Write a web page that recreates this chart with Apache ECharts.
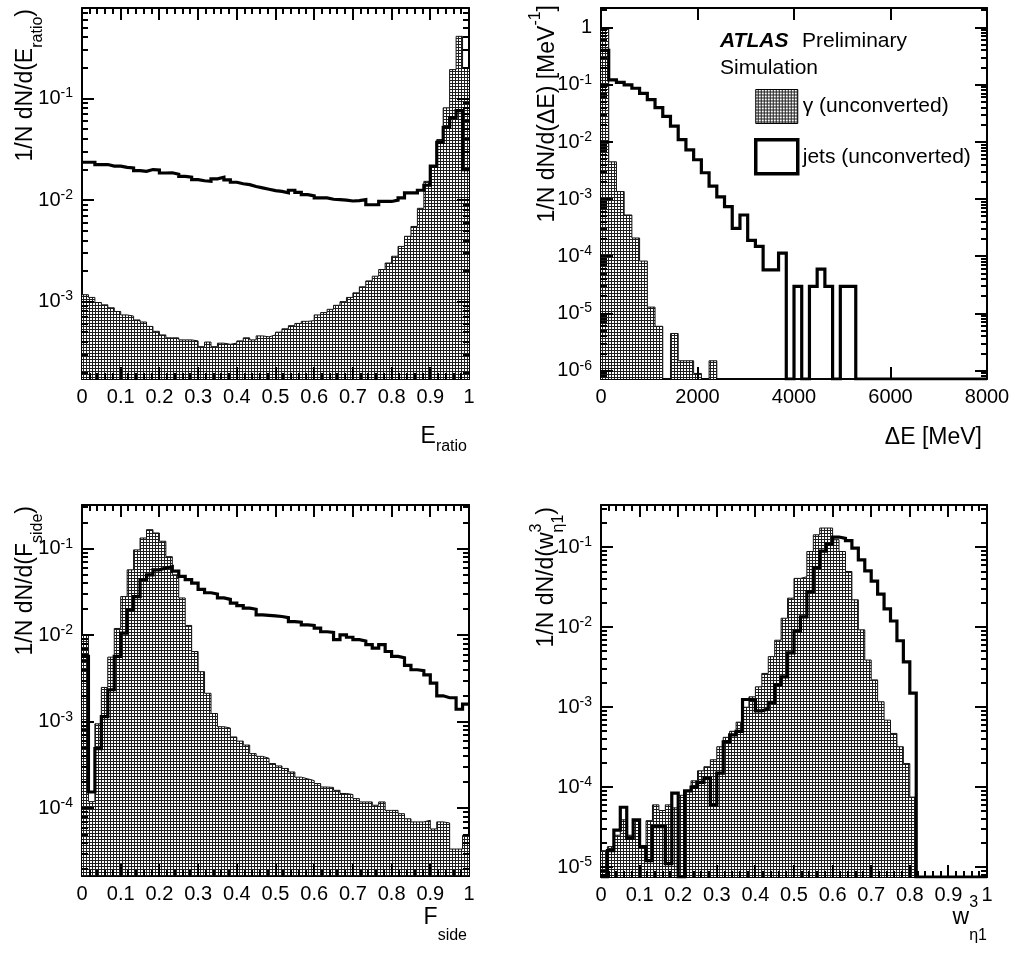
<!DOCTYPE html>
<html>
<head>
<meta charset="utf-8">
<script src="https://cdn.jsdelivr.net/npm/echarts@6/dist/echarts.min.js"></script>
<style>
  html, body { margin: 0; padding: 0; background: #fff; }
  #main { width: 1011px; height: 953px; }
</style>
</head>
<body>
<div id="main"></div>
<script>
const GAMMA = 'γ (unconverted)';
const JETS = 'jets (unconverted)';

// E_ratio, 60 bins on [0,1]
const ERATIO_X = [0, 1];
const ERATIO_Y = [1.73e-4, 0.78];
const ERATIO_GAMMA = [
  1.17e-3, 1.10e-3, 9.8e-4, 9.3e-4, 8.7e-4, 8.0e-4, 7.4e-4, 7.2e-4, 6.6e-4, 6.3e-4,
  5.7e-4, 5.1e-4, 4.7e-4, 4.4e-4, 4.4e-4, 4.2e-4, 4.2e-4, 4.1e-4, 3.6e-4, 4.0e-4,
  3.6e-4, 3.9e-4, 3.8e-4, 3.9e-4, 4.1e-4, 4.4e-4, 4.2e-4, 4.6e-4, 4.5e-4, 4.7e-4,
  5.0e-4, 5.4e-4, 5.8e-4, 6.1e-4, 6.4e-4, 6.5e-4, 7.4e-4, 7.8e-4, 8.4e-4, 9.2e-4,
  1.0e-3, 1.1e-3, 1.22e-3, 1.4e-3, 1.6e-3, 1.78e-3, 2.07e-3, 2.4e-3, 2.8e-3, 3.5e-3,
  4.4e-3, 5.5e-3, 8.3e-3, 0.0153, 0.0215, 0.0395, 0.081, 0.193, 0.41, 0.20
];
const ERATIO_JETS = [
  0.0236, 0.0236, 0.0224, 0.0224, 0.0216, 0.0216, 0.0210, 0.0207, 0.0195, 0.0192,
  0.0200, 0.0198, 0.0185, 0.0186, 0.0180, 0.0171, 0.0168, 0.0159, 0.0155, 0.0153,
  0.0162, 0.0168, 0.0158, 0.0150, 0.0145, 0.0142, 0.0136, 0.0132, 0.0128, 0.0124,
  0.0122, 0.0118, 0.0125, 0.0119, 0.0113, 0.0110, 0.0105, 0.0105, 0.0102, 0.0101,
  0.0100, 0.0098, 0.0099, 0.0101, 0.0090, 0.0090, 0.0097, 0.0097, 0.0100, 0.0105,
  0.0118, 0.0118, 0.0125, 0.0140, 0.0216, 0.0370, 0.0520, 0.0650, 0.0760, 0.0200
];

// Delta E, 50 bins on [0,8000] MeV
const DELTAE_X = [0, 8000];
const DELTAE_Y = [7.2e-7, 2.2];
const DELTAE_GAMMA = [
  1.0, 4.5e-3, 1.36e-3, 5.3e-4, 2.1e-4, 8.3e-5, 1.3e-5, 6e-6, 0, 4.5e-6,
  1.5e-6, 1.5e-6, 9e-7, 0, 1.5e-6, 0, 0, 0, 0, 0,
  0, 0, 0, 0, 0, 0, 0, 0, 0, 0,
  0, 0, 0, 0, 0, 0, 0, 0, 0, 0,
  0, 0, 0, 0, 0, 0, 0, 0, 0, 0
];
const DELTAE_JETS = [
  0.40, 0.122, 0.110, 0.100, 0.087, 0.071, 0.055, 0.040, 0.028, 0.019,
  0.011, 0.0073, 0.0049, 0.0029, 0.0017, 0.0011, 7.4e-4, 3.1e-4, 5.3e-4, 1.9e-4,
  1.5e-4, 5.8e-5, 5.8e-5, 1.14e-4, 0, 3e-5, 0, 3e-5, 6e-5, 3e-5,
  0, 3e-5, 3e-5, 0, 0, 0, 0, 0, 0, 0,
  0, 0, 0, 0, 0, 0, 0, 0, 0, 0
];

// F_side, 60 bins on [0,1]
const FSIDE_X = [0, 1];
const FSIDE_Y = [1.66e-5, 0.32];
const FSIDE_GAMMA = [
  0.010, 1.2e-4, 9.5e-4, 2.5e-3, 5.6e-3, 0.012, 0.028, 0.057, 0.097, 0.133,
  0.166, 0.152, 0.122, 0.081, 0.050, 0.027, 0.013, 0.0065, 0.0038, 0.00214,
  0.00125, 8.8e-4, 8.5e-4, 6.7e-4, 6.0e-4, 5.4e-4, 4.3e-4, 4.0e-4, 3.8e-4, 3.3e-4,
  3.1e-4, 2.9e-4, 2.64e-4, 2.3e-4, 2.2e-4, 2.1e-4, 1.94e-4, 1.77e-4, 1.75e-4, 1.62e-4,
  1.49e-4, 1.45e-4, 1.3e-4, 1.19e-4, 1.19e-4, 1.09e-4, 1.19e-4, 9.5e-5, 9.5e-5, 8.7e-5,
  7.6e-5, 7.0e-5, 7.0e-5, 7.3e-5, 5.8e-5, 7.0e-5, 6.8e-5, 3.4e-5, 3.4e-5, 4.9e-5
];
const FSIDE_JETS = [
  0.0057, 1.55e-4, 4.9e-4, 1.15e-3, 2.35e-3, 5.7e-3, 0.0106, 0.0197, 0.028, 0.044,
  0.050, 0.057, 0.060, 0.062, 0.055, 0.048, 0.044, 0.040, 0.034, 0.031,
  0.030, 0.027, 0.026, 0.0235, 0.022, 0.0206, 0.020, 0.0172, 0.0170, 0.0168,
  0.0165, 0.0160, 0.0144, 0.0142, 0.0132, 0.0130, 0.0121, 0.0110, 0.0108, 0.0089,
  0.0101, 0.0095, 0.0089, 0.0086, 0.0078, 0.0071, 0.0078, 0.0065, 0.0057, 0.0055,
  0.0045, 0.0040, 0.0039, 0.0035, 0.0028, 0.0020, 0.0019, 0.0019, 0.0014, 0.0016
];

// w_eta1, 60 bins on [0,1]
const WETA_X = [0, 1];
const WETA_Y = [7.5e-6, 0.34];
const WETA_GAMMA = [
  1.6e-5, 1.8e-5, 2.5e-5, 3.9e-5, 2.5e-5, 3.9e-5, 1.8e-5, 3.8e-5, 6.0e-5, 5.1e-5,
  6.0e-5, 5.5e-5, 7.9e-5, 9e-5, 1.2e-4, 1.6e-4, 1.8e-4, 2.2e-4, 3.2e-4, 4.2e-4,
  5.0e-4, 6.5e-4, 1.0e-3, 1.35e-3, 1.8e-3, 2.65e-3, 4.3e-3, 6.9e-3, 0.013, 0.0232,
  0.041, 0.043, 0.089, 0.144, 0.175, 0.175, 0.125, 0.089, 0.050, 0.0221,
  0.0093, 0.0039, 0.0022, 0.00117, 6.9e-4, 4.7e-4, 3.2e-4, 1.97e-4, 7.5e-5, 0,
  0, 0, 0, 0, 0, 0, 0, 0, 0, 0
];
const WETA_JETS = [
  0, 1.6e-5, 2.9e-5, 5.6e-5, 2.3e-5, 3.9e-5, 1.8e-5, 1.2e-5, 3.2e-5, 3.2e-5,
  1.1e-5, 8.4e-5, 0, 9e-5, 1.0e-4, 1.15e-4, 1.3e-4, 6e-5, 1.5e-4, 3.7e-4,
  4.5e-4, 5.0e-4, 1.25e-3, 1.23e-3, 9e-4, 9.5e-4, 1.15e-3, 1.9e-3, 2.4e-3, 4.8e-3,
  9e-3, 0.0135, 0.028, 0.056, 0.09, 0.11, 0.135, 0.13, 0.122, 0.098,
  0.07, 0.051, 0.038, 0.026, 0.017, 0.012, 0.0068, 0.0037, 0.0015, 0,
  0, 0, 0, 0, 0, 0, 0, 0, 0, 0
];

const X_STEPS = [0.1, 2000, 0.1, 0.1];

const FONT = '"Liberation Sans", Arial, Helvetica, sans-serif';

// dotted fill like the ROOT hatch
const tile = document.createElement('canvas');
tile.width = 3;
tile.height = 3;
const tctx = tile.getContext('2d');
tctx.fillStyle = '#1e1e1e';
tctx.fillRect(0, 0, 3, 3);
tctx.fillStyle = '#ffffff';
tctx.fillRect(0, 0, 2, 2);
const dots = { image: tile, repeat: 'repeat' };

// bin contents -> step points (left edges + closing right edge); empty bins sit on the axis floor
function steps(vals, xr, floor) {
  const w = (xr[1] - xr[0]) / vals.length;
  const pts = vals.map((v, i) => [xr[0] + i * w, v > 0 ? v : floor]);
  pts.push([xr[1], pts[pts.length - 1][1]]);
  return pts;
}

const panels = [
  { x: ERATIO_X, y: ERATIO_Y, g: ERATIO_GAMMA, j: ERATIO_JETS, minor: true },
  { x: DELTAE_X, y: DELTAE_Y, g: DELTAE_GAMMA, j: DELTAE_JETS, minor: false },
  { x: FSIDE_X, y: FSIDE_Y, g: FSIDE_GAMMA, j: FSIDE_JETS, minor: true },
  { x: WETA_X, y: WETA_Y, g: WETA_GAMMA, j: WETA_JETS, minor: true }
];

const boxes = [
  { left: 82, top: 8, width: 387, height: 371 },
  { left: 601, top: 8, width: 386, height: 371 },
  { left: 82, top: 505, width: 387, height: 371 },
  { left: 601, top: 505, width: 386, height: 372 }
];
const grids = boxes.map(g => Object.assign({ outerBoundsMode: 'none', containLabel: false, show: false }, g));

const axisLine = { show: true, onZero: false, lineStyle: { color: '#000', width: 2 } };

function xAxisOpt(i, top) {
  const p = panels[i];
  return {
    type: 'value', gridIndex: i, position: top ? 'top' : 'bottom',
    min: p.x[0], max: p.x[1], interval: X_STEPS[i],
    axisLine: axisLine,
    axisTick: { show: false },
    minorTick: { show: false },
    axisLabel: top ? { show: false } : {
      show: true, margin: 8, color: '#000', fontSize: 20, fontFamily: FONT,
      formatter: v => String(Math.round(v * 1000) / 1000)
    },
    splitLine: { show: false }, minorSplitLine: { show: false }
  };
}

function yAxisOpt(i, right) {
  const p = panels[i];
  return {
    type: 'log', logBase: 10, gridIndex: i, position: right ? 'right' : 'left',
    min: p.y[0], max: p.y[1],
    axisLine: axisLine,
    axisTick: { show: false },
    minorTick: { show: false },
    axisLabel: right ? { show: false } : {
      show: true, margin: 9, showMinLabel: false, showMaxLabel: false,
      formatter: v => {
        const l = Math.log10(v);
        const e = Math.round(l);
        if (Math.abs(l - e) > 1e-6) return '';
        return e === 0 ? '{m|1}' : '{m|10}{s|' + e + '}';
      },
      rich: {
        m: { fontSize: 20, lineHeight: 24, color: '#000', fontFamily: FONT },
        s: { fontSize: 14, lineHeight: 14, verticalAlign: 'top', color: '#000', fontFamily: FONT }
      }
    },
    splitLine: { show: false }, minorSplitLine: { show: false }
  };
}

const xAxes = [], yAxes = [], series = [];
panels.forEach((p, i) => {
  xAxes.push(xAxisOpt(i, false), xAxisOpt(i, true));
  yAxes.push(yAxisOpt(i, false), yAxisOpt(i, true));
  series.push({
    type: 'line', name: GAMMA, xAxisIndex: 2 * i, yAxisIndex: 2 * i,
    data: steps(p.g, p.x, p.y[0]), step: 'end', symbol: 'none', z: 2, silent: true,
    lineStyle: { color: '#111', width: 1 },
    areaStyle: { color: dots, opacity: 1, origin: 'start' }
  });
  series.push({
    type: 'line', name: JETS, xAxisIndex: 2 * i, yAxisIndex: 2 * i,
    data: steps(p.j, p.x, p.y[0]), step: 'end', symbol: 'none', z: 3, silent: true,
    lineStyle: { color: '#000', width: 3.2, join: 'miter' }
  });
});

// text measuring for the stacked w^3_eta1 scripts
const mctx = document.createElement('canvas').getContext('2d');
function textW(t, size) {
  mctx.font = size + 'px ' + FONT;
  return mctx.measureText(t).width;
}

const TITLE = 23, SCRIPT = 16;
function richFor(lineH) {
  return {
    m: { fontSize: TITLE, lineHeight: lineH, fill: '#000', fontFamily: FONT },
    b: { fontSize: SCRIPT, lineHeight: 16, verticalAlign: 'bottom', fill: '#000', fontFamily: FONT },
    t: { fontSize: SCRIPT, lineHeight: 28, verticalAlign: 'top', fill: '#000', fontFamily: FONT }
  };
}
const richTop = richFor(36);
const richLow = richFor(52);
const richV = richFor(40);

function hText(x, y, text, rich) {
  return { type: 'text', x: x, y: y, silent: true, z: 10,
    style: { text: text, rich: rich, align: 'right', verticalAlign: 'middle' } };
}
function vText(x, y, text) {
  return { type: 'text', x: x, y: y, rotation: Math.PI / 2, silent: true, z: 10,
    style: { text: text, rich: richV, align: 'right', verticalAlign: 'middle' } };
}
function plain(x, y, text, size, rot) {
  return { type: 'text', x: x, y: y, rotation: rot || 0, silent: true, z: 10,
    style: { text: text, fontSize: size, fontFamily: FONT, fill: '#000', align: 'left', verticalAlign: 'middle' } };
}

const etaW = textW('η1', SCRIPT);
const parW = textW(')', TITLE);

const graphics = [
  vText(26, 9, '{m|1/N dN/d(E}{b|ratio}{m|)}'),
  vText(548, 5, '{m|1/N dN/d(ΔE) [MeV}{t|-1}{m|]}'),
  vText(26, 506, '{m|1/N dN/d(F}{b|side}{m|)}'),
  vText(547, 507, '{m|1/N dN/d(w}{b|η1}{m|)}'),
  plain(537, 507 + parW + etaW, '3', SCRIPT, Math.PI / 2),
  hText(467, 437, '{m|E}{b|ratio}', richTop),
  hText(982, 438, '{m|ΔE [MeV]}', richTop),
  hText(467, 918, '{m|F}{b|side}', richLow),
  hText(987, 918, '{m|w}{b|η1}', richLow),
  plain(987 - etaW, 903, '3', SCRIPT),
  { type: 'text', x: 720, y: 41, silent: true, z: 10,
    style: { text: 'ATLAS', fontSize: 21, fontWeight: 'bold', fontStyle: 'italic', fontFamily: FONT,
      fill: '#000', align: 'left', verticalAlign: 'middle' } },
  plain(802, 41, 'Preliminary', 21),
  plain(720, 68, 'Simulation', 21)
];

// ROOT-style inward ticks on all four frame sides, spaced like the axes (linear x, log10 y)
function tickBar(x, y, w, h) {
  graphics.push({
    type: 'rect', silent: true, z: 20,
    shape: { x: x, y: y, width: w, height: h },
    style: { fill: '#000' }
  });
}
panels.forEach((p, i) => {
  const b = boxes[i];
  const bottom = b.top + b.height, top = b.top, left = b.left, right = b.left + b.width;
  const step = X_STEPS[i];
  const n = Math.round((p.x[1] - p.x[0]) / step);
  const sub = p.minor ? 5 : 1;
  for (let k = 1; k < n * sub; k++) {
    const len = k % sub === 0 ? 12 : 6;
    const px = Math.round(left + k / (n * sub) * b.width) - 1;
    tickBar(px, bottom - len, 2, len);
    tickBar(px, top, 2, len);
  }
  const lo = Math.log10(p.y[0]), hi = Math.log10(p.y[1]);
  for (let e = Math.floor(lo); e <= Math.ceil(hi); e++) {
    for (let m = 1; m <= 9; m++) {
      const v = m * Math.pow(10, e);
      if (v <= p.y[0] || v >= p.y[1]) continue;
      const len = m === 1 ? 12 : 6;
      const py = Math.round(bottom - (Math.log10(v) - lo) / (hi - lo) * b.height) - 1;
      tickBar(left, py, len, 2);
      tickBar(right - len, py, len, 2);
    }
  }
});

const chart = echarts.init(document.getElementById('main'), null, { renderer: 'canvas' });
chart.setOption({
  animation: false,
  backgroundColor: '#fff',
  grid: grids,
  xAxis: xAxes,
  yAxis: yAxes,
  legend: {
    show: true, orient: 'vertical', left: 749, top: 84, padding: 5,
    itemWidth: 42, itemHeight: 34, itemGap: 14, selectedMode: false,
    textStyle: { fontSize: 21, fontFamily: FONT, color: '#000' },
    data: [
      { name: GAMMA, icon: 'rect', itemStyle: { color: dots, borderColor: '#000', borderWidth: 1 } },
      { name: JETS, icon: 'rect', itemStyle: { color: '#fff', borderColor: '#000', borderWidth: 3.5 } }
    ]
  },
  graphic: graphics,
  series: series
});
</script>
</body>
</html>
